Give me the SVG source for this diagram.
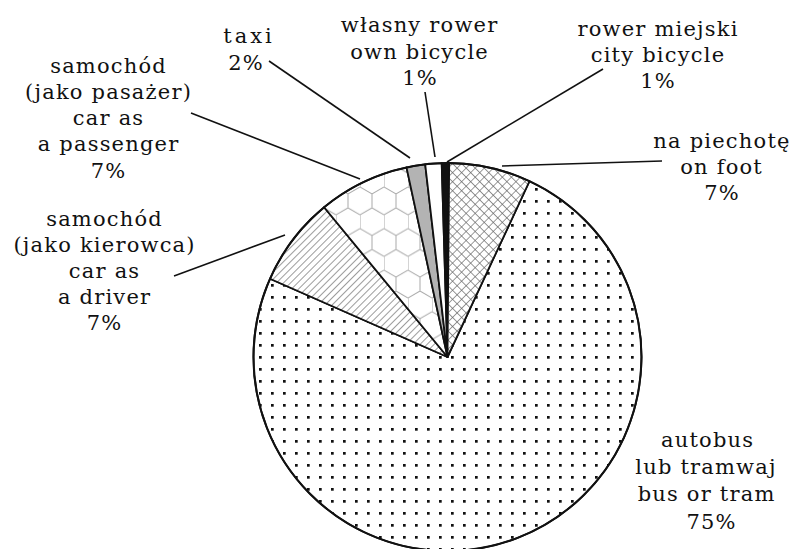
<svg xmlns="http://www.w3.org/2000/svg" width="792" height="549" viewBox="0 0 792 549">
<style>
.t{font-family:"DejaVu Serif","Liberation Serif",serif;font-size:21px;fill:#111;text-anchor:middle;letter-spacing:1.2px}
.slice{stroke:#111;stroke-width:1.8;stroke-linejoin:round}
.lead{stroke:#111;stroke-width:1.6;fill:none}
</style>
<defs>
<pattern id="dots" patternUnits="userSpaceOnUse" x="7" y="8" width="12" height="12">
<rect width="12" height="12" fill="#fff"/>
<rect x="0" y="0" width="2.7" height="2.7" fill="#111"/>
</pattern>
<pattern id="cross" patternUnits="userSpaceOnUse" width="6.4" height="6.4" patternTransform="rotate(45)">
<rect width="6.4" height="6.4" fill="#fff"/>
<path d="M0,0 H6.4 M0,0 V6.4" stroke="#666" stroke-width="1.3"/>
</pattern>
<pattern id="hatch" patternUnits="userSpaceOnUse" width="5" height="5" patternTransform="rotate(45)">
<rect width="5" height="5" fill="#fff"/>
<path d="M0,0 V5" stroke="#666" stroke-width="1.3"/>
</pattern>
<pattern id="hex" patternUnits="userSpaceOnUse" width="24" height="41.57">
<rect width="24" height="41.57" fill="#fff"/>
<path d="M0,6.93 L12,0 L24,6.93 M0,6.93 V20.78 M0,20.78 L12,27.71 L24,20.78 M12,27.71 V41.57" stroke="#aaa" stroke-width="1" fill="none"/>
</pattern>
</defs>
<g id="pie">
<g id="slice-bus"><path class="slice" fill="url(#dots)" d="M447.5,357 L529.5,181.2 A194,194 0 1 1 270.0,278.7 Z"/></g>
<g id="slice-driver"><path class="slice" fill="url(#hatch)" d="M447.5,357 L270.0,278.7 A194,194 0 0 1 324.1,207.3 Z"/></g>
<g id="slice-passenger"><path class="slice" fill="url(#hex)" d="M447.5,357 L324.1,207.3 A194,194 0 0 1 406.5,167.4 Z"/></g>
<g id="slice-taxi"><path class="slice" fill="#b3b3b3" d="M447.5,357 L406.5,167.4 A194,194 0 0 1 425.2,164.3 Z"/></g>
<g id="slice-own-bicycle"><path class="slice" fill="#fff" d="M447.5,357 L425.2,164.3 A194,194 0 0 1 441.7,163.1 Z"/></g>
<g id="slice-city-bicycle"><path class="slice" fill="#111" d="M447.5,357 L441.7,163.1 A194,194 0 0 1 449.2,163.0 Z"/></g>
<g id="slice-foot"><path class="slice" fill="url(#cross)" d="M447.5,357 L449.2,163.0 A194,194 0 0 1 529.5,181.2 Z"/></g>
<circle cx="447.5" cy="357" r="194" fill="none" stroke="#111" stroke-width="2"/>
</g>
<g id="connectors">
<line class="lead" x1="269" y1="61" x2="410" y2="158"/>
<line class="lead" x1="191" y1="113" x2="360" y2="179"/>
<line class="lead" x1="174" y1="276" x2="285" y2="235"/>
<line class="lead" x1="425" y1="92" x2="435" y2="157"/>
<line class="lead" x1="603" y1="69" x2="447" y2="162"/>
<line class="lead" x1="662" y1="161" x2="502" y2="166"/>
</g>
<g id="label-taxi">
<text class="t" x="249" y="43" style="letter-spacing:3px">taxi</text>
<text class="t" x="246" y="70">2%</text>
</g>
<g id="label-passenger">
<text class="t" x="108.6" y="72.5">samochód</text>
<text class="t" x="108.6" y="98.8">(jako pasażer)</text>
<text class="t" x="108.6" y="125.1">car as</text>
<text class="t" x="108.6" y="151.4">a passenger</text>
<text class="t" x="108.6" y="177.7">7%</text>
</g>
<g id="label-driver">
<text class="t" x="104.6" y="225.7">samochód</text>
<text class="t" x="104.6" y="251.8">(jako kierowca)</text>
<text class="t" x="104.6" y="277.9">car as</text>
<text class="t" x="104.6" y="304">a driver</text>
<text class="t" x="104.6" y="330">7%</text>
</g>
<g id="label-own-bicycle">
<text class="t" x="419.6" y="32.3">własny rower</text>
<text class="t" x="419.6" y="58.6">own bicycle</text>
<text class="t" x="420" y="85">1%</text>
</g>
<g id="label-city-bicycle">
<text class="t" x="658" y="35.5">rower miejski</text>
<text class="t" x="658" y="62">city bicycle</text>
<text class="t" x="658" y="88">1%</text>
</g>
<g id="label-foot">
<text class="t" x="722" y="148">na piechotę</text>
<text class="t" x="721.6" y="174">on foot</text>
<text class="t" x="722" y="200">7%</text>
</g>
<g id="label-bus">
<text class="t" x="707.6" y="447">autobus</text>
<text class="t" x="706" y="474">lub tramwaj</text>
<text class="t" x="706.6" y="501">bus or tram</text>
<text class="t" x="711.6" y="529">75%</text>
</g>
</svg>
